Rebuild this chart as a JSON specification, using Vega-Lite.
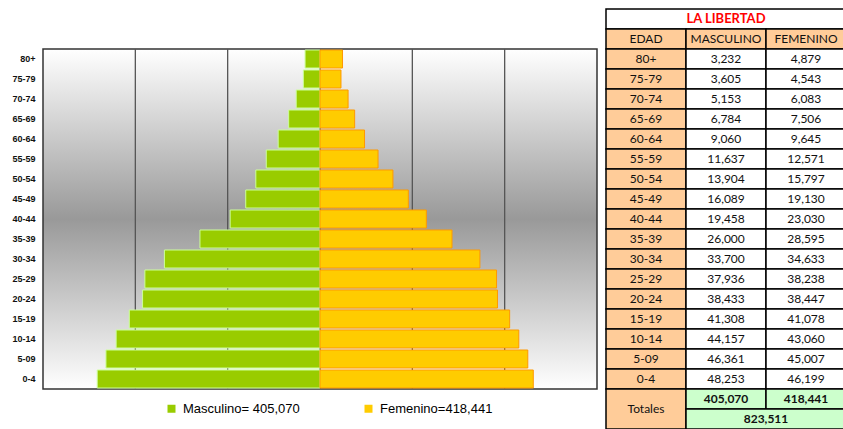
{
  "$schema": "https://vega.github.io/schema/vega-lite/v6.json",
  "padding": {"top": 8, "left": 0, "right": 0, "bottom": 0},
  "spacing": 7,
  "background": "#ffffff",
  "config": {
    "view": {"stroke": null},
    "font": "Liberation Sans"
  },
  "datasets": {
    "piramide": [
      {"edad": "80+", "masculino": 3232, "femenino": 4879},
      {"edad": "75-79", "masculino": 3605, "femenino": 4543},
      {"edad": "70-74", "masculino": 5153, "femenino": 6083},
      {"edad": "65-69", "masculino": 6784, "femenino": 7506},
      {"edad": "60-64", "masculino": 9060, "femenino": 9645},
      {"edad": "55-59", "masculino": 11637, "femenino": 12571},
      {"edad": "50-54", "masculino": 13904, "femenino": 15797},
      {"edad": "45-49", "masculino": 16089, "femenino": 19130},
      {"edad": "40-44", "masculino": 19458, "femenino": 23030},
      {"edad": "35-39", "masculino": 26000, "femenino": 28595},
      {"edad": "30-34", "masculino": 33700, "femenino": 34633},
      {"edad": "25-29", "masculino": 37936, "femenino": 38238},
      {"edad": "20-24", "masculino": 38433, "femenino": 38447},
      {"edad": "15-19", "masculino": 41308, "femenino": 41078},
      {"edad": "10-14", "masculino": 44157, "femenino": 43060},
      {"edad": "5-09", "masculino": 46361, "femenino": 45007},
      {"edad": "0-4", "masculino": 48253, "femenino": 46199}
    ],
    "totales": [
      {"etiqueta": "Totales", "masculino": 405070, "femenino": 418441, "total": 823511}
    ],
    "encabezado": [
      {"col": "EDAD"}, {"col": "MASCULINO"}, {"col": "FEMENINO"}
    ],
    "titulo": [{"titulo": "LA LIBERTAD"}],
    "grid": [{"v": -40000}, {"v": -20000}, {"v": 0}, {"v": 20000}, {"v": 40000}]
  },
  "hconcat": [
    {
      "width": 554,
      "height": 380,
      "layer": [
        {
          "data": {"name": "titulo"},
          "mark": {
            "type": "rect",
            "stroke": "#333333",
            "strokeWidth": 1.5,
            "color": {
              "gradient": "linear", "x1": 0, "y1": 0, "x2": 0, "y2": 1,
              "stops": [
                {"offset": 0, "color": "#ffffff"},
                {"offset": 0.5, "color": "#999999"},
                {"offset": 1, "color": "#ffffff"}
              ]
            }
          },
          "encoding": {
            "y": {"datum": "80+", "bandPosition": 0},
            "y2": {"datum": "0-4", "bandPosition": 1}
          }
        },
        {
          "data": {"name": "grid"},
          "mark": {"type": "rule", "color": "#555555", "strokeWidth": 1.3},
          "encoding": {
            "x": {"field": "v", "type": "quantitative", "scale": {"domain": [-60000, 60000]}, "axis": null},
            "y": {"datum": "80+", "bandPosition": 0},
            "y2": {"datum": "0-4", "bandPosition": 1}
          }
        },
        {
          "data": {"name": "piramide"},
          "mark": {"type": "bar", "stroke": "#ccff99", "strokeWidth": 1, "height": {"band": 0.9}},
          "encoding": {
            "y": {
              "field": "edad",
              "type": "nominal",
              "scale": {"type": "band", "domain": ["t", "h", "80+", "75-79", "70-74", "65-69", "60-64", "55-59", "50-54", "45-49", "40-44", "35-39", "30-34", "25-29", "20-24", "15-19", "10-14", "5-09", "0-4"], "paddingInner": 0, "paddingOuter": 0},
              "axis": {"title": null, "values": ["80+", "75-79", "70-74", "65-69", "60-64", "55-59", "50-54", "45-49", "40-44", "35-39", "30-34", "25-29", "20-24", "15-19", "10-14", "5-09", "0-4"], "ticks": false, "domain": false, "labelPadding": 8, "labelFontSize": 9, "labelFontWeight": "bold", "labelColor": "#111111", "labelFont": "Liberation Sans", "minExtent": 43, "maxExtent": 43}
            },
            "x": {"field": "masculino", "type": "quantitative", "scale": {"domain": [-60000, 60000], "reverse": true}, "axis": null},
            "color": {"datum": "Masculino= 405,070"}
          }
        },
        {
          "data": {"name": "piramide"},
          "mark": {"type": "bar", "stroke": "#ff9900", "strokeWidth": 1, "height": {"band": 0.9}},
          "encoding": {
            "y": {"field": "edad", "type": "nominal"},
            "x": {"field": "femenino", "type": "quantitative", "scale": {"domain": [-60000, 60000]}, "axis": null},
            "color": {
              "datum": "Femenino=418,441",
              "scale": {"domain": ["Masculino= 405,070", "Femenino=418,441"], "range": ["#99cc00", "#ffcc00"]},
              "legend": {
                "title": null,
                "orient": "none",
                "legendX": 122,
                "legendY": 393,
                "direction": "horizontal",
                "symbolType": "square",
                "symbolSize": 64,
                "symbolStrokeWidth": 0,
                "labelFontSize": 13,
                "labelFont": "Liberation Sans",
                "labelColor": "#000000",
                "labelOffset": 5,
                "columnPadding": 62,
                "padding": 0
              }
            }
          }
        }
      ],
      "resolve": {"scale": {"x": "independent"}}
    },
    {
      "width": 240,
      "height": 420,
      "encoding": {
        "x": {"type": "nominal", "scale": {"type": "band", "domain": ["EDAD", "MASCULINO", "FEMENINO"], "paddingInner": 0, "paddingOuter": 0}, "axis": null},
        "y": {"type": "nominal", "scale": {"type": "band", "domain": ["t", "h", "80+", "75-79", "70-74", "65-69", "60-64", "55-59", "50-54", "45-49", "40-44", "35-39", "30-34", "25-29", "20-24", "15-19", "10-14", "5-09", "0-4", "T1", "T2"], "paddingInner": 0, "paddingOuter": 0}, "axis": null}
      },
      "layer": [
        {
          "data": {"name": "titulo"},
          "mark": {"type": "rect", "fill": "#ffffff", "stroke": "#000000", "strokeWidth": 1.5},
          "encoding": {"y": {"datum": "t"}}
        },
        {
          "data": {"name": "titulo"},
          "mark": {"type": "text", "color": "#ff0000", "font": "Lato", "fontWeight": "bold", "fontSize": 13},
          "encoding": {"x": {"datum": "MASCULINO"}, "y": {"datum": "t"}, "text": {"field": "titulo"}}
        },
        {
          "data": {"name": "encabezado"},
          "mark": {"type": "rect", "fill": "#ffcc99", "stroke": "#000000", "strokeWidth": 1.5},
          "encoding": {"x": {"field": "col"}, "y": {"datum": "h"}}
        },
        {
          "data": {"name": "encabezado"},
          "mark": {"type": "text", "color": "#111111", "font": "Lato", "fontSize": 12},
          "encoding": {"x": {"field": "col"}, "y": {"datum": "h"}, "text": {"field": "col"}}
        },
        {
          "data": {"name": "piramide"},
          "mark": {"type": "rect", "fill": "#ffcc99", "stroke": "#000000", "strokeWidth": 1.5},
          "encoding": {"x": {"datum": "EDAD"}, "y": {"field": "edad"}}
        },
        {
          "data": {"name": "piramide"},
          "mark": {"type": "rect", "fill": "#ffffff", "stroke": "#000000", "strokeWidth": 1.5},
          "encoding": {"x": {"datum": "MASCULINO"}, "y": {"field": "edad"}}
        },
        {
          "data": {"name": "piramide"},
          "mark": {"type": "rect", "fill": "#ffffff", "stroke": "#000000", "strokeWidth": 1.5},
          "encoding": {"x": {"datum": "FEMENINO"}, "y": {"field": "edad"}}
        },
        {
          "data": {"name": "piramide"},
          "mark": {"type": "text", "color": "#111111", "font": "Lato", "fontSize": 12},
          "encoding": {"x": {"datum": "EDAD"}, "y": {"field": "edad"}, "text": {"field": "edad"}}
        },
        {
          "data": {"name": "piramide"},
          "mark": {"type": "text", "color": "#111111", "font": "Lato", "fontSize": 12},
          "encoding": {"x": {"datum": "MASCULINO"}, "y": {"field": "edad"}, "text": {"field": "masculino", "type": "quantitative", "format": ",d"}}
        },
        {
          "data": {"name": "piramide"},
          "mark": {"type": "text", "color": "#111111", "font": "Lato", "fontSize": 12},
          "encoding": {"x": {"datum": "FEMENINO"}, "y": {"field": "edad"}, "text": {"field": "femenino", "type": "quantitative", "format": ",d"}}
        },
        {
          "data": {"name": "totales"},
          "mark": {"type": "rect", "fill": "#ffcc99", "stroke": "#000000", "strokeWidth": 1.5},
          "encoding": {"x": {"datum": "EDAD"}, "y": {"datum": "T1", "bandPosition": 0}, "y2": {"datum": "T2", "bandPosition": 1}}
        },
        {
          "data": {"name": "totales"},
          "mark": {"type": "text", "color": "#111111", "font": "Lato", "fontSize": 12},
          "encoding": {"x": {"datum": "EDAD"}, "y": {"datum": "T2", "bandPosition": 0}, "text": {"field": "etiqueta"}}
        },
        {
          "data": {"name": "totales"},
          "mark": {"type": "rect", "fill": "#ccffcc", "stroke": "#000000", "strokeWidth": 1.5},
          "encoding": {"x": {"datum": "MASCULINO"}, "y": {"datum": "T1"}}
        },
        {
          "data": {"name": "totales"},
          "mark": {"type": "rect", "fill": "#ccffcc", "stroke": "#000000", "strokeWidth": 1.5},
          "encoding": {"x": {"datum": "FEMENINO"}, "y": {"datum": "T1"}}
        },
        {
          "data": {"name": "totales"},
          "mark": {"type": "rect", "fill": "#ccffcc", "stroke": "#000000", "strokeWidth": 1.5},
          "encoding": {"x": {"datum": "MASCULINO", "bandPosition": 0}, "x2": {"datum": "FEMENINO", "bandPosition": 1}, "y": {"datum": "T2"}}
        },
        {
          "data": {"name": "totales"},
          "mark": {"type": "text", "color": "#111111", "font": "Lato", "fontWeight": "bold", "fontSize": 12},
          "encoding": {"x": {"datum": "MASCULINO"}, "y": {"datum": "T1"}, "text": {"field": "masculino", "type": "quantitative", "format": ",d"}}
        },
        {
          "data": {"name": "totales"},
          "mark": {"type": "text", "color": "#111111", "font": "Lato", "fontWeight": "bold", "fontSize": 12},
          "encoding": {"x": {"datum": "FEMENINO"}, "y": {"datum": "T1"}, "text": {"field": "femenino", "type": "quantitative", "format": ",d"}}
        },
        {
          "data": {"name": "totales"},
          "mark": {"type": "text", "color": "#111111", "font": "Lato", "fontWeight": "bold", "fontSize": 12},
          "encoding": {"x": {"datum": "FEMENINO", "bandPosition": 0}, "y": {"datum": "T2"}, "text": {"field": "total", "type": "quantitative", "format": ",d"}}
        }
      ]
    }
  ]
}
